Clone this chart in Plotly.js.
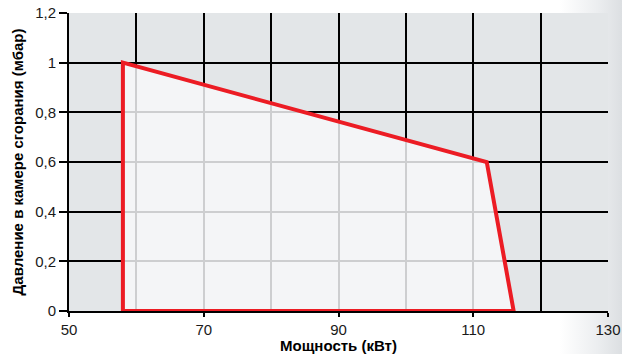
<!DOCTYPE html>
<html><head><meta charset="utf-8">
<script src="https://cdn.plot.ly/plotly-3.0.1.min.js"></script>
<style>
html,body{margin:0;padding:0;width:622px;height:354px;overflow:hidden;
background:linear-gradient(to right,#ffffff 0%,#ffffff 90%,#eceef0 96%,#dcdfe2 100%);}
#chart{width:622px;height:354px;}
</style></head><body>
<div id="chart"></div>
<script>
const powerKW = [58, 58, 112, 116, 58];
const pressureMbar = [0, 1.0, 0.6, 0, 0];
const xTitle = 'Мощность (кВт)';
const yTitle = 'Давление в камере сгорания (мбар)';

const trace = {
  x: powerKW, y: pressureMbar, type: 'scatter', mode: 'lines',
  fill: 'toself', fillcolor: 'rgba(247,248,250,0.83)',
  line: {color: '#ec1c24', width: 4, shape: 'linear'},
  hoverinfo: 'skip', showlegend: false
};
const tickFont = {family: 'Liberation Sans, Arial, sans-serif', size: 15, color: '#1a1a1a'};
const titleFont = {family: 'Liberation Sans Narrow, Arial Narrow, Liberation Sans, sans-serif', size: 15, color: '#000', weight: 'bold'};
const layout = {
  width: 622, height: 354,
  margin: {l: 69, r: 14, t: 13, b: 43, pad: 0},
  paper_bgcolor: 'rgba(0,0,0,0)', plot_bgcolor: '#e3e6e8',
  separators: ', ',
  showlegend: false,
  xaxis: {
    range: [50, 130], dtick: 20, tick0: 50, ticks: 'outside', ticklen: 4, tickwidth: 2, tickcolor: '#000',
    showgrid: true, gridcolor: '#000', gridwidth: 2,
    minor: {dtick: 10, tick0: 50, showgrid: true, gridcolor: '#000', gridwidth: 2},
    showline: true, linecolor: '#000', linewidth: 2, mirror: false,
    zeroline: false, tickfont: tickFont,
    title: {text: xTitle, font: titleFont, standoff: 3}
  },
  yaxis: {
    range: [0, 1.2], dtick: 0.2, ticks: 'outside', ticklen: 8, tickwidth: 2, tickcolor: '#000',
    showgrid: true, gridcolor: '#000', gridwidth: 2,
    showline: true, linecolor: '#000', linewidth: 2,
    zeroline: false, tickfont: tickFont,
    title: {text: yTitle, font: titleFont, standoff: 8}
  }
};
Plotly.newPlot('chart', [trace], layout, {displayModeBar: false, staticPlot: true});
</script></body></html>
